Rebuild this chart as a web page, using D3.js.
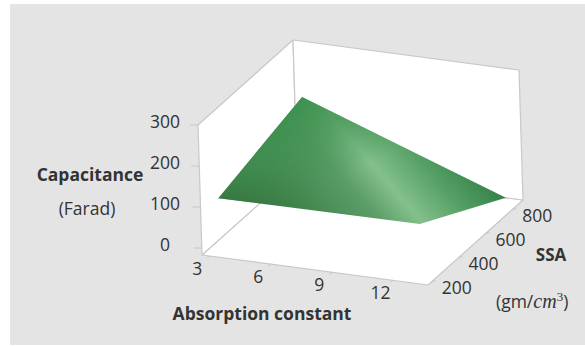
<!DOCTYPE html>
<html><head><meta charset="utf-8">
<script src="https://cdn.jsdelivr.net/npm/d3@7"></script>
<style>html,body{margin:0;padding:0;background:#fff}svg{display:block}text{font-family:"Open Sans",sans-serif;fill:#333}</style>
</head><body><svg id="c" width="585" height="346"></svg>
<script>
const xTicks=[3,6,9,12], yTicks=[200,400,600,800], zTicks=[0,100,200,300];
const surfX=[3.3,3.3,13.2,13.2];
const surfY=[200,830,830,200];
const surfZ=[118,180,0,120];
const xTitle="Absorption constant", yTitle="SSA", zTitle="Capacitance", zUnit="(Farad)";

const svg=d3.select("#c");
svg.append("rect").attr("x",10).attr("y",4).attr("width",575).attr("height",341).attr("fill","#e4e4e4");

const sx=d3.scaleLinear().domain([2.6,13.7]).range([0,1]);
const sy=d3.scaleLinear().domain([172,880]).range([0,1]);
const sz=d3.scaleLinear().domain([-17,300]).range([0,1]);
const F=[[202,255],[428,285],[523,200],[297,170]];
function P(x,y,z){
  const u=sx(x),v=sy(y),w=sz(z);
  const b=(i)=>(1-u)*(1-v)*F[0][i]+u*(1-v)*F[1][i]+u*v*F[2][i]+(1-u)*v*F[3][i];
  return [b(0)-w*4, b(1)-w*130];
}
const X=sx.domain(),Y=sy.domain(),Z=sz.domain();
const line=d3.line();
const wall=(pts)=>svg.append("path").attr("d",line(pts)+"Z").attr("fill","#fff").attr("stroke","#c8c8c8").attr("stroke-width",1.2).attr("stroke-linejoin","round");
wall([P(X[0],Y[0],Z[0]),P(X[1],Y[0],Z[0]),P(X[1],Y[1],Z[0]),P(X[0],Y[1],Z[0])]);
wall([P(X[0],Y[0],Z[0]),P(X[0],Y[1],Z[0]),P(X[0],Y[1],Z[1]),P(X[0],Y[0],Z[1])]);
wall([P(X[0],Y[1],Z[0]),P(X[1],Y[1],Z[0]),P(X[1],Y[1],Z[1]),P(X[0],Y[1],Z[1])]);

const tick=(a,b)=>svg.append("line").attr("x1",a[0]).attr("y1",a[1]).attr("x2",b[0]).attr("y2",b[1]).attr("stroke","#c8c8c8").attr("stroke-width",1);
const label=(t,x,y,o={})=>svg.append("text").attr("x",x).attr("y",y).attr("text-anchor",o.a||"middle").attr("font-size",o.s||17.5).attr("font-weight",o.w||400).attr("fill",o.f||"#3a3a3a").text(t);

xTicks.forEach(t=>{const p=P(t,Y[0],Z[0]);tick(p,[p[0]-3,p[1]+2]);label(t,p[0]-13,p[1]+19);});
yTicks.forEach(t=>{const p=P(X[1],t,Z[0]);tick(p,[p[0]+4,p[1]-1]);label(t,p[0]+25,p[1]+12);});
zTicks.forEach(t=>{const p=P(X[0],Y[0],t);tick(p,[p[0]-8,p[1]]);label(t,165,p[1]+3);});

label(xTitle,262,320,{s:17.5,w:700,f:"#1c1c1c"});
label(yTitle,551,261,{s:17,w:700,f:"#1c1c1c"});
label(zTitle,90,181,{s:17.5,w:700,f:"#1c1c1c"});
label(zUnit,87,215,{s:17.5});
const u=svg.append("text").attr("x",496).attr("y",308).attr("font-size",17.5).attr("fill","#3a3a3a");
u.append("tspan").text("(gm/");
u.append("tspan").attr("font-family","Liberation Serif").attr("font-style","italic").attr("font-size",20).text("cm");
u.append("tspan").attr("font-family","Liberation Serif").attr("font-size",13).attr("dy",-7).text("3");
u.append("tspan").attr("dy",7).text(")");

const defs=svg.append("defs");
const pts=surfX.map((x,i)=>P(x,surfY[i],surfZ[i]));
const g1=defs.append("linearGradient").attr("id","g1").attr("gradientUnits","userSpaceOnUse")
  .attr("x1",pts[0][0]).attr("y1",pts[0][1]).attr("x2",pts[0][0]+165).attr("y2",pts[0][1]-141);
[[0,"#2f6636"],[0.3,"#458950"],[0.5,"#5c9d68"],[0.64,"#84c08c"],[0.82,"#55a065"],[1,"#36824a"]].forEach(s=>g1.append("stop").attr("offset",s[0]).attr("stop-color",s[1]));
const g2=defs.append("linearGradient").attr("id","g2").attr("gradientUnits","userSpaceOnUse")
  .attr("x1",pts[1][0]).attr("y1",pts[1][1]).attr("x2",pts[1][0]+40).attr("y2",pts[1][1]+80);
[[0,"#3a8f4c",0.95],[0.4,"#3f9150",0.7],[1,"#3f9150",0]].forEach(s=>g2.append("stop").attr("offset",s[0]).attr("stop-color",s[1]).attr("stop-opacity",s[2]));
svg.append("path").attr("d",line(pts)+"Z").attr("fill","url(#g1)");
svg.append("path").attr("d",line(pts)+"Z").attr("fill","url(#g2)");
</script></body></html>
